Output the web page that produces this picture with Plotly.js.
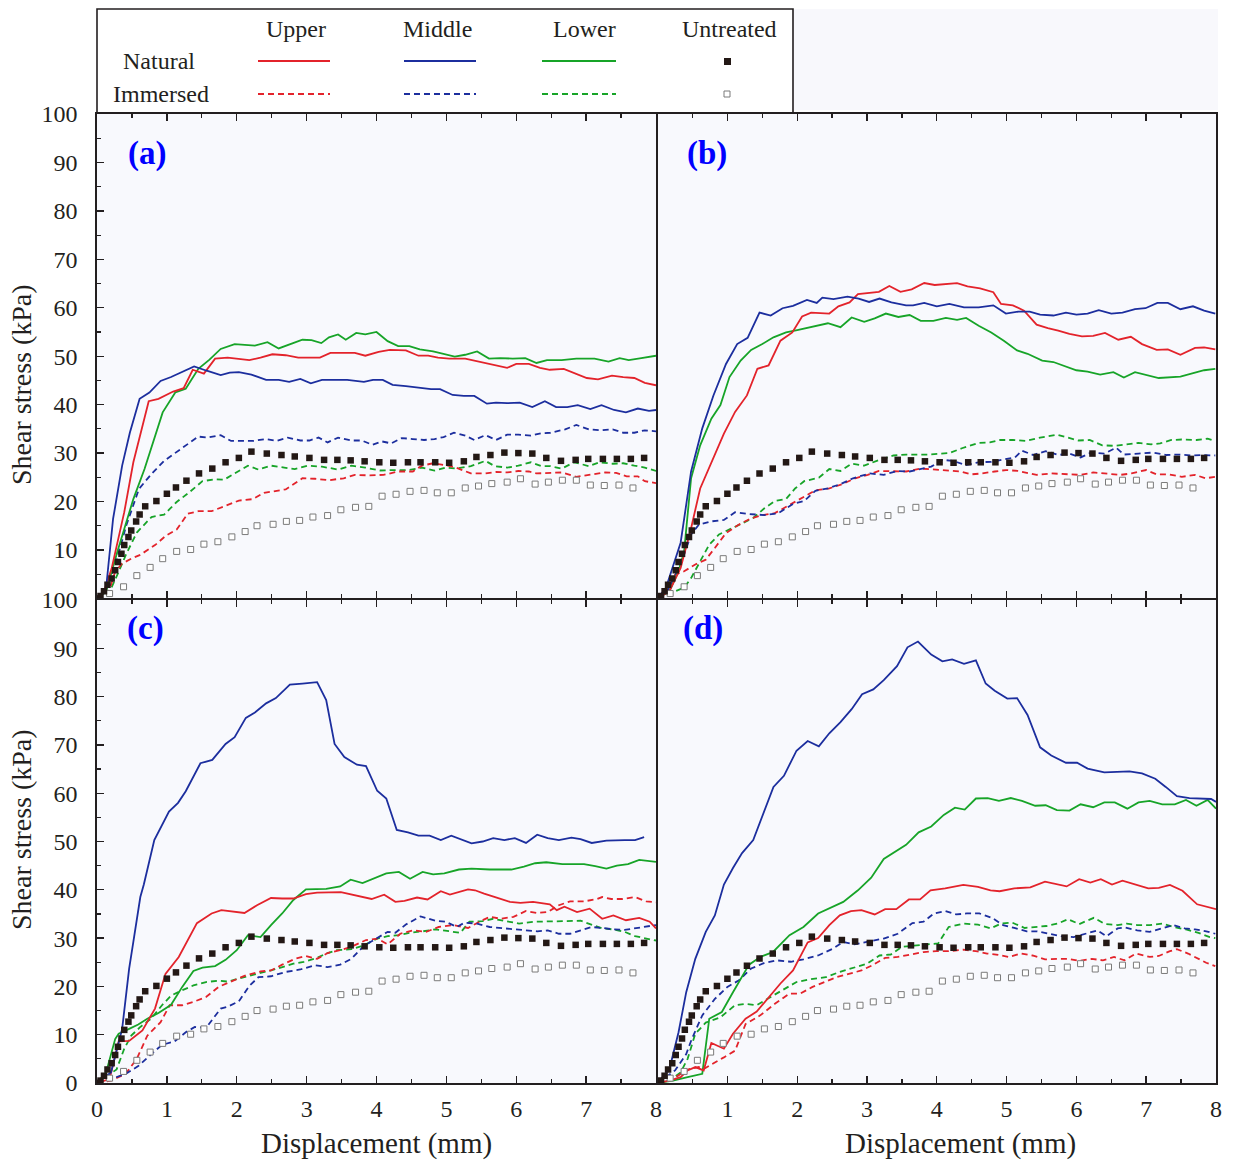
<!DOCTYPE html>
<html>
<head>
<meta charset="utf-8">
<script src="https://cdn.plot.ly/plotly-3.0.1.min.js"></script>
<style>html,body{margin:0;padding:0;background:#fff;}#chart{width:1234px;height:1162px;}</style>
</head>
<body>
<div id="chart"></div>
<script>
// ---------- Untreated (same in all four panels) ----------
const ut_nat_x = [0,0.05,0.1,0.15,0.21,0.26,0.30,0.35,0.39,0.45,0.49,0.56,0.61,0.69,0.85,1.00,1.13,1.28,1.46,1.65,1.84,2.03,2.21,2.43,2.64,2.83,3.04,3.25,3.44,3.63,3.83,4.04,4.24,4.45,4.63,4.84,5.04,5.25,5.43,5.63,5.83,6.03,6.23,6.43,6.64,6.85,7.03,7.24,7.44,7.64,7.83];
const ut_nat_y = [0,0.5,1.5,2.8,4.1,5.8,7.5,9.2,11.0,12.7,14.0,15.9,17.3,19.0,20.1,21.6,22.9,24.3,25.8,26.8,28.1,29.0,30.3,29.9,29.6,29.3,29.0,28.6,28.6,28.5,28.3,28.1,28.0,28.1,28.1,28.1,28.0,28.3,29.2,29.6,30.1,30.0,29.9,29.0,28.4,28.6,28.8,28.8,28.8,28.8,29.0];
const ut_imm_x = [0,0.18,0.38,0.57,0.76,0.94,1.14,1.34,1.53,1.73,1.93,2.12,2.29,2.52,2.71,2.90,3.09,3.30,3.49,3.70,3.89,4.08,4.28,4.48,4.68,4.87,5.07,5.27,5.46,5.65,5.87,6.06,6.27,6.46,6.66,6.86,7.06,7.26,7.47,7.67];
const ut_imm_y = [0,1.0,2.4,4.7,6.4,8.2,9.7,10.1,11.2,11.7,12.7,13.8,15.0,15.3,15.9,16.1,16.8,17.1,18.3,18.8,19.0,21.1,21.5,22.1,22.3,21.8,21.8,22.8,23.2,23.7,24.0,24.7,23.6,24.0,24.4,24.4,23.4,23.3,23.4,22.8];

// ---------- Panel (a) ----------
const a_up_nat_x = [0,0.10,0.21,0.39,0.52,0.74,0.88,1.09,1.24,1.37,1.53,1.69,1.87,2.18,2.34,2.51,2.70,2.88,3.19,3.34,3.53,3.69,3.84,4.03,4.19,4.42,4.60,4.74,4.88,5.04,5.27,5.43,5.66,5.87,6.00,6.18,6.34,6.48,6.68,6.86,7.01,7.17,7.37,7.53,7.69,7.84,8.0];
const a_up_nat_y = [0,1.4,6.2,17.8,28.1,40.7,41.2,42.7,43.4,47.2,46.4,49.5,49.7,49.2,49.7,50.4,50.2,49.7,49.7,50.7,50.7,50.7,50.1,50.9,51.3,51.2,50.1,50.1,49.7,49.5,49.5,49.0,48.2,47.6,48.4,48.4,47.6,47.2,47.4,46.4,45.5,45.2,46.0,45.7,45.5,44.5,44.0];
const a_mid_nat_x = [0,0.13,0.23,0.36,0.47,0.61,0.75,0.91,1.06,1.22,1.39,1.57,1.77,1.90,2.03,2.21,2.42,2.60,2.75,2.91,3.06,3.22,3.58,3.82,3.95,4.09,4.23,4.42,4.60,4.78,4.91,5.09,5.25,5.40,5.58,5.71,5.87,6.05,6.23,6.41,6.57,6.73,6.88,7.06,7.22,7.40,7.57,7.74,7.90,8.0];
const a_mid_nat_y = [0,2.1,16.4,27.4,34.2,41.2,42.5,44.9,45.7,46.7,47.9,47.0,46.1,46.6,46.7,46.2,45.1,45.1,44.7,45.3,44.4,45.1,45.1,44.7,45.1,45.1,44.1,43.8,43.5,43.2,43.2,42.0,41.8,41.8,40.2,40.4,40.3,40.4,39.5,40.7,39.5,39.5,39.9,39.1,39.9,38.9,38.4,39.2,38.7,38.9];
const a_low_nat_x = [0,0.13,0.29,0.52,0.68,0.94,1.12,1.27,1.45,1.61,1.77,1.97,2.26,2.44,2.60,2.75,2.94,3.07,3.21,3.32,3.45,3.56,3.71,3.84,4.0,4.16,4.31,4.47,4.62,4.81,4.96,5.12,5.27,5.44,5.61,5.77,5.95,6.13,6.29,6.44,6.65,6.86,7.12,7.32,7.48,7.61,7.79,7.95,8.0];
const a_low_nat_y = [0,1.4,9.6,20.5,26.7,38.4,42.5,43.3,47.4,49.3,51.5,52.5,52.2,52.9,51.6,52.4,53.4,53.3,52.7,53.9,54.5,53.4,54.8,54.5,55.0,53.1,52.1,52.1,51.4,51.0,50.5,49.9,50.3,51.0,49.5,49.6,49.5,49.6,48.6,49.2,49.2,49.5,49.5,48.9,49.6,49.2,49.6,50.1,50.1];
const a_up_imm_x = [0,0.16,0.26,0.36,0.49,0.62,0.83,0.99,1.14,1.30,1.45,1.64,1.82,2.03,2.23,2.39,2.70,2.94,3.12,3.32,3.53,3.69,3.90,4.10,4.31,4.52,4.65,4.81,4.99,5.14,5.35,5.56,5.71,5.87,6.03,6.18,6.29,6.49,6.65,6.86,7.06,7.27,7.43,7.58,7.74,7.84,8.0];
const a_up_imm_y = [0,1.0,5.5,7.2,8.2,9.0,11.0,13.0,14.2,17.5,18.0,18.0,19.0,20.2,20.5,21.8,22.5,24.8,24.7,24.4,24.8,25.5,25.4,25.5,26.2,26.2,27.4,27.9,27.5,27.0,25.8,25.8,26.1,26.0,26.3,26.2,25.8,25.9,26.0,25.1,25.5,26.0,25.9,25.2,25.2,24.2,23.8];
const a_mid_imm_x = [0,0.10,0.26,0.42,0.60,0.78,0.96,1.14,1.32,1.45,1.58,1.77,1.92,2.23,2.41,2.57,2.73,2.91,3.04,3.17,3.30,3.45,3.64,3.79,3.94,4.08,4.21,4.36,4.52,4.68,4.83,4.96,5.11,5.27,5.40,5.56,5.71,5.87,6.03,6.21,6.36,6.49,6.70,6.86,7.04,7.22,7.38,7.53,7.69,7.84,8.0];
const a_mid_imm_y = [0,1.0,6.8,15.1,22.6,25.7,28.4,30.3,32.2,33.4,33.2,33.7,32.5,32.5,32.9,32.5,33.2,32.6,32.6,33.2,32.2,33.2,32.6,32.6,31.7,32.4,32.0,33.1,32.9,32.7,32.9,33.3,34.2,33.6,32.7,33.7,32.7,33.8,33.8,33.6,34.1,34.2,34.9,35.8,34.9,34.7,34.9,34.2,34.2,34.7,34.5];
const a_low_imm_x = [0,0.16,0.31,0.42,0.57,0.78,0.96,1.14,1.32,1.51,1.69,1.82,1.97,2.16,2.31,2.49,2.68,2.83,3.01,3.22,3.45,3.64,3.84,4.05,4.26,4.47,4.65,4.83,4.99,5.14,5.35,5.56,5.69,5.87,6.03,6.21,6.36,6.49,6.65,6.83,7.04,7.19,7.38,7.53,7.69,7.84,8.0];
const a_low_imm_y = [0,0.7,5.5,9.2,13.6,16.8,17.3,19.9,21.9,24.2,24.6,24.5,25.8,27.4,26.6,27.4,27.0,26.7,27.4,27.2,26.6,27.4,27.0,26.4,26.5,26.5,27.0,26.4,27.0,26.8,27.3,28.4,27.3,27.0,27.4,28.1,27.3,27.3,26.8,28.1,27.3,28.1,27.8,27.9,27.4,27.0,26.3];

// ---------- Panel (b) ----------
const b_up_nat_x = [0,0.17,0.33,0.48,0.61,0.80,0.95,1.11,1.28,1.43,1.59,1.76,1.93,2.07,2.20,2.46,2.59,2.75,2.87,3.17,3.32,3.48,3.64,3.82,3.97,4.29,4.44,4.62,4.81,4.92,5.09,5.25,5.43,5.59,5.74,5.90,6.08,6.24,6.41,6.60,6.78,6.94,7.15,7.31,7.49,7.70,7.83,7.99];
const b_up_nat_y = [0,1.5,6.3,14.5,22.7,28.9,34.0,38.5,41.9,47.4,48.1,53.2,54.9,58.2,59.0,58.8,60.3,61.1,62.8,63.3,64.5,63.3,63.8,65.1,64.7,65.1,64.4,64.0,63.2,60.8,60.5,59.4,56.5,55.8,55.3,54.6,54.1,54.2,54.8,53.4,54.0,52.5,51.3,51.4,50.3,51.7,51.8,51.4];
const b_mid_nat_x = [0,0.12,0.33,0.48,0.64,0.80,0.98,1.14,1.29,1.46,1.62,1.79,1.94,2.14,2.28,2.36,2.52,2.72,2.88,3.03,3.18,3.35,3.56,3.66,3.82,4.0,4.18,4.39,4.60,4.81,4.99,5.17,5.33,5.48,5.67,5.85,6.0,6.16,6.32,6.50,6.66,6.84,6.99,7.16,7.31,7.49,7.67,7.83,7.99];
const b_mid_nat_y = [0,2.2,11.5,26.2,35.1,41.9,48.4,52.5,53.8,59.0,58.4,59.9,60.4,61.6,61.0,62.1,61.8,62.3,61.9,61.2,61.9,61.1,60.5,60.5,61.0,60.3,60.8,60.1,60.1,60.5,58.8,59.2,59.2,58.6,58.4,59.0,58.6,58.8,59.5,58.8,59.0,59.7,59.9,61.0,61.0,59.7,60.3,59.4,58.8];
const b_low_nat_x = [0,0.17,0.30,0.38,0.48,0.61,0.77,0.90,1.03,1.19,1.34,1.50,1.66,1.84,2.0,2.20,2.44,2.62,2.78,2.96,3.11,3.27,3.45,3.61,3.77,3.95,4.13,4.29,4.42,4.60,4.78,4.96,5.15,5.30,5.51,5.67,5.85,6.0,6.16,6.34,6.53,6.68,6.84,7.02,7.18,7.49,7.67,7.83,7.99];
const b_low_nat_y = [0,1.5,5.6,9.7,24.8,31.6,37.1,39.9,45.7,49.1,51.3,52.5,53.9,54.9,55.4,56.0,56.8,56.0,58.0,57.1,57.8,58.8,58.1,58.5,57.3,57.3,57.9,57.5,57.9,56.3,54.9,53.2,51.2,50.5,49.1,48.8,47.9,47.1,46.8,46.2,46.7,45.6,46.7,46.0,45.5,45.8,46.5,47.1,47.4];
const b_up_imm_x = [0,0.15,0.25,0.38,0.54,0.69,0.82,0.98,1.16,1.32,1.47,1.68,1.89,2.07,2.26,2.46,2.65,2.83,3.01,3.17,3.38,3.56,3.77,3.97,4.23,4.34,4.49,4.65,4.83,4.99,5.17,5.43,5.64,5.85,6.06,6.24,6.42,6.63,6.79,7.0,7.15,7.33,7.51,7.70,7.85,7.99];
const b_up_imm_y = [0,1.2,4.9,5.6,7.0,8.0,10.4,13.5,15.2,16.4,17.1,17.6,19.3,20.7,22.3,22.7,23.6,24.8,25.5,26.3,26.3,26.2,26.8,26.6,26.3,26.2,25.6,25.8,26.2,26.5,26.3,25.5,25.8,25.6,25.5,26.0,25.7,25.5,25.8,26.5,25.6,25.6,25.1,25.5,24.8,25.1];
const b_mid_imm_x = [0,0.15,0.33,0.48,0.59,0.77,0.95,1.11,1.32,1.53,1.73,1.94,2.10,2.26,2.44,2.62,2.80,3.04,3.24,3.43,3.61,3.77,3.92,4.08,4.23,4.42,4.60,4.78,4.96,5.12,5.22,5.38,5.56,5.74,5.90,6.06,6.21,6.40,6.57,6.68,6.89,7.10,7.29,7.47,7.67,7.83,7.99];
const b_mid_imm_y = [0,1.8,7.0,13.2,15.2,15.9,16.2,17.8,17.4,17.2,17.6,19.5,20.1,22.2,22.7,23.6,24.8,25.8,25.5,26.3,26.2,26.7,27.2,28.6,28.4,27.5,28.1,28.2,28.6,29.1,30.5,29.6,30.4,29.6,29.9,29.1,30.1,29.9,31.1,29.7,29.9,30.1,29.6,29.7,29.5,29.6,29.5];
const b_low_imm_x = [0,0.22,0.38,0.48,0.61,0.74,0.88,1.03,1.21,1.37,1.53,1.68,1.84,1.97,2.10,2.31,2.46,2.62,2.78,2.96,3.14,3.38,3.56,3.87,4.18,4.36,4.60,4.76,4.91,5.09,5.28,5.48,5.72,5.88,6.03,6.19,6.37,6.55,6.71,6.89,7.07,7.20,7.36,7.51,7.72,7.88,7.99];
const b_low_imm_y = [0,1.2,2.2,4.2,7.7,11.1,13.2,14.2,15.5,16.6,18.6,20.1,20.5,22.7,24.2,24.9,26.7,26.3,27.8,27.4,28.4,29.5,29.7,29.7,30.0,31.0,32.1,32.2,32.7,32.7,32.5,33.2,33.8,33.2,32.6,32.7,31.6,31.5,31.8,32.1,31.8,32.0,32.7,32.8,32.7,33.0,32.5];

// ---------- Panel (c) ----------
const c_up_nat_x = [0,0.18,0.31,0.46,0.65,0.83,0.98,1.17,1.43,1.64,1.78,2.11,2.29,2.49,2.65,2.81,2.99,3.15,3.49,3.72,3.93,4.11,4.27,4.40,4.58,4.73,4.92,5.05,5.31,5.41,5.54,5.72,5.91,6.06,6.24,6.48,6.58,6.69,6.87,7.05,7.23,7.39,7.57,7.76,7.91,8.0];
const c_up_nat_y = [0,0.8,8.6,8.7,10.9,15.4,22.6,26.1,33.1,35.1,35.8,35.2,36.8,38.3,38.2,38.2,39.1,39.4,39.5,38.8,38.1,39.0,37.5,37.7,38.4,38.0,39.7,39.0,40.1,39.9,39.2,38.4,37.5,37.3,37.5,37.0,35.8,36.5,35.4,36.1,34.0,34.7,33.7,34.2,33.4,32.0];
const c_mid_nat_x = [0,0.20,0.36,0.46,0.52,0.62,0.67,0.82,1.03,1.16,1.27,1.48,1.65,1.84,1.97,2.13,2.26,2.42,2.56,2.76,2.94,3.15,3.28,3.40,3.54,3.72,3.85,4.01,4.14,4.29,4.45,4.60,4.76,4.92,5.07,5.36,5.52,5.67,5.83,5.98,6.14,6.30,6.45,6.61,6.79,6.92,7.08,7.29,7.55,7.70,7.83];
const c_mid_nat_y = [0,2.2,11.2,23.7,29.2,38.5,41.1,50.3,56.2,58.0,60.4,66.2,66.9,70.2,71.6,75.6,76.7,78.6,79.7,82.5,82.7,83.0,79.3,70.2,67.5,65.9,65.6,60.5,58.9,52.4,51.9,51.2,51.2,50.3,51.2,49.6,50.0,50.7,50.3,50.7,49.7,51.4,50.7,50.3,50.8,50.5,49.7,50.2,50.3,50.3,50.9];
const c_low_nat_x = [0,0.13,0.26,0.31,0.46,0.59,0.72,0.88,1.06,1.22,1.38,1.51,1.69,1.84,2.0,2.16,2.34,2.49,2.65,2.81,2.99,3.28,3.48,3.63,3.80,3.98,4.14,4.32,4.48,4.66,4.81,4.97,5.18,5.36,5.62,5.93,6.11,6.27,6.43,6.66,6.97,7.13,7.29,7.44,7.60,7.76,7.86,8.0];
const c_low_nat_y = [0,2.2,9.1,10.2,11.2,12.1,13.3,14.5,16.2,19.9,23.2,23.9,24.2,25.5,27.5,30.6,30.2,32.7,35.1,37.9,40.1,40.2,40.7,42.1,41.4,42.5,43.4,43.7,42.3,43.7,43.2,43.4,44.2,44.4,44.2,44.2,44.8,45.5,45.7,45.3,45.3,44.9,44.4,45.0,45.3,46.2,46.0,45.8];
const c_up_imm_x = [0,0.20,0.41,0.57,0.72,0.91,1.04,1.22,1.38,1.56,1.74,1.95,2.13,2.34,2.49,2.65,2.83,2.99,3.15,3.30,3.48,3.64,3.85,4.01,4.16,4.34,4.53,4.71,4.89,5.10,5.31,5.49,5.62,5.78,5.96,6.14,6.30,6.45,6.61,6.77,6.97,7.16,7.23,7.36,7.52,7.70,7.86,8.0];
const c_up_imm_y = [0,0.5,1.9,5.0,9.8,12.6,16.1,16.1,16.8,17.8,19.9,21.2,22.3,23.1,23.3,24.5,25.7,26.3,25.7,26.9,27.5,28.2,29.6,29.9,28.7,30.9,31.6,31.3,32.3,32.7,32.1,33.5,34.4,34.0,34.4,35.6,35.2,35.4,36.8,37.6,37.6,38.1,38.5,38.1,38.1,38.5,37.6,37.4];
const c_mid_imm_x = [0,0.20,0.41,0.59,0.78,0.93,1.11,1.27,1.40,1.56,1.77,1.87,2.03,2.18,2.31,2.49,2.70,2.91,3.12,3.30,3.48,3.64,3.82,4.01,4.16,4.27,4.42,4.63,4.84,4.99,5.15,5.26,5.44,5.62,5.83,6.01,6.14,6.30,6.45,6.61,6.77,6.92,7.08,7.23,7.39,7.55,7.70,7.86,8.0];
const c_mid_imm_y = [0,0.8,1.9,3.5,6.0,7.9,8.6,10.5,11.6,11.4,15.4,15.8,16.9,20.1,21.9,22.1,23.0,23.5,24.4,24.0,24.5,25.7,28.4,30.0,31.3,31.1,32.8,34.5,33.6,33.4,32.3,33.2,33.0,32.3,32.0,31.8,31.6,31.4,31.6,30.9,30.9,31.6,32.3,32.1,31.8,31.7,32.0,32.3,32.7];
const c_low_imm_x = [0,0.15,0.28,0.39,0.49,0.62,0.78,0.93,1.06,1.22,1.38,1.56,1.74,1.87,2.03,2.18,2.34,2.49,2.65,2.81,2.96,3.15,3.28,3.43,3.64,3.82,4.01,4.16,4.32,4.47,4.66,4.84,5.05,5.20,5.33,5.52,5.67,5.83,6.04,6.27,6.45,6.66,6.92,7.08,7.23,7.39,7.55,7.70,7.86,8.0];
const c_low_imm_y = [0,1.5,2.8,7.1,9.8,11.6,13.4,16.1,18.1,19.2,20.2,20.9,21.2,21.0,21.6,22.3,22.8,23.3,24.0,24.7,25.1,25.9,26.8,27.5,27.7,28.5,29.9,30.4,30.6,31.1,31.4,31.8,31.4,31.1,33.4,33.5,34.0,33.6,33.0,33.4,33.5,33.5,33.6,32.7,32.0,31.8,31.3,30.4,29.9,29.5];

// ---------- Panel (d) ----------
const d_up_nat_x = [0,0.17,0.33,0.43,0.54,0.66,0.77,0.95,1.08,1.26,1.42,1.57,1.76,1.94,2.15,2.30,2.46,2.61,2.77,2.92,3.11,3.26,3.42,3.60,3.76,3.91,4.12,4.38,4.59,4.77,4.90,5.11,5.34,5.55,5.70,5.86,6.04,6.20,6.35,6.51,6.66,6.85,7.03,7.18,7.34,7.52,7.73,8.0];
const d_up_nat_y = [0,0.5,1.2,2.6,3.3,2.6,8.3,7.1,10.2,13.3,14.8,17.4,20.6,23.3,29.1,30.0,32.7,34.7,35.6,35.8,34.9,36.0,36.0,38.0,38.0,39.9,40.3,41.0,40.6,39.9,39.7,40.3,40.5,41.7,41.2,40.7,42.2,41.5,42.2,41.1,41.9,41.0,40.3,40.4,41.0,39.8,37.0,36.0];
const d_mid_nat_x = [0,0.17,0.30,0.41,0.54,0.69,0.82,0.95,1.08,1.21,1.37,1.53,1.66,1.81,1.99,2.15,2.31,2.46,2.62,2.78,2.93,3.09,3.24,3.43,3.58,3.73,3.92,4.08,4.22,4.39,4.56,4.70,4.83,5.01,5.15,5.30,5.48,5.64,5.85,6.01,6.16,6.40,6.58,6.76,6.94,7.13,7.28,7.44,7.62,7.78,7.93,8.0];
const d_mid_nat_y = [0,2.9,10.5,18.8,25.7,31.3,34.7,41.1,44.5,47.6,50.3,56.5,61.3,63.6,68.8,70.8,69.7,72.4,74.7,77.4,80.5,81.5,83.4,86.3,90.2,91.4,88.7,87.3,87.7,86.8,87.5,82.7,81.2,79.6,79.7,76.2,69.5,67.8,66.3,66.3,65.1,64.3,64.4,64.5,64.1,63.0,61.3,59.4,59.0,58.9,58.8,58.2];
const d_low_nat_x = [0,0.22,0.43,0.64,0.74,0.92,1.08,1.31,1.47,1.65,1.89,2.09,2.30,2.48,2.66,2.87,3.06,3.24,3.40,3.56,3.74,3.92,4.10,4.26,4.40,4.56,4.73,4.89,5.06,5.22,5.41,5.56,5.72,5.90,6.06,6.24,6.40,6.55,6.73,6.89,7.05,7.23,7.41,7.57,7.72,7.88,8.0];
const d_low_nat_y = [0,0.5,1.2,1.9,13.3,14.7,18.8,24.5,26.1,27.1,30.6,32.3,35.1,36.3,37.5,39.9,42.5,46.4,47.9,49.3,51.9,53.1,55.5,57.0,56.6,58.9,59.0,58.4,59.0,58.4,57.4,57.5,56.5,56.4,57.7,57.1,58.1,58.1,56.8,58.1,58.4,57.7,57.7,58.6,57.4,58.6,56.8];
const d_up_imm_x = [0,0.22,0.43,0.59,0.66,0.79,0.95,1.11,1.26,1.47,1.68,1.89,2.04,2.22,2.41,2.56,2.74,2.92,3.08,3.26,3.44,3.63,3.81,3.99,4.17,4.38,4.56,4.72,4.85,5.03,5.21,5.37,5.55,5.73,5.89,6.04,6.22,6.38,6.54,6.69,6.85,7.05,7.18,7.34,7.44,7.60,7.75,7.86,7.99];
const d_up_imm_y = [0,0.8,2.8,3.3,2.9,3.9,5.3,6.7,12.2,14.0,16.4,18.5,18.5,19.9,21.0,21.9,22.6,23.3,24.4,25.9,26.1,26.6,27.1,27.3,27.3,27.6,27.3,26.8,26.6,26.1,26.8,26.4,25.6,25.7,25.7,25.3,25.7,25.4,26.1,25.4,26.8,26.1,26.3,27.3,27.7,26.8,25.7,24.9,24.2];
const d_mid_imm_x = [0,0.14,0.25,0.41,0.49,0.64,0.82,1.00,1.16,1.34,1.52,1.70,1.91,2.09,2.30,2.51,2.66,2.82,3.03,3.24,3.44,3.65,3.81,3.96,4.12,4.28,4.43,4.61,4.79,4.95,5.11,5.29,5.44,5.60,5.78,5.96,6.15,6.30,6.43,6.59,6.69,6.87,7.05,7.24,7.39,7.55,7.70,7.86,7.99];
const d_mid_imm_y = [0,1.5,2.6,6.0,9.1,14.0,17.4,19.9,21.2,23.7,24.8,25.4,25.1,25.6,26.4,27.8,29.2,28.7,29.3,29.9,30.9,33.1,33.4,35.1,35.6,34.9,35.1,35.1,34.2,32.7,32.1,31.4,31.4,30.9,30.4,30.2,30.9,31.6,30.4,32.0,32.2,31.6,31.3,32.0,32.7,32.0,31.8,31.4,30.9];
const d_low_imm_x = [0,0.17,0.33,0.43,0.54,0.69,0.90,1.11,1.26,1.42,1.57,1.78,1.99,2.20,2.41,2.61,2.82,3.00,3.18,3.34,3.50,3.65,3.86,4.02,4.17,4.38,4.59,4.77,4.92,5.08,5.26,5.42,5.57,5.73,5.88,6.04,6.25,6.41,6.59,6.72,6.87,7.05,7.24,7.39,7.57,7.75,7.91,7.99];
const d_low_imm_y = [0,0.5,2.2,5.0,10.2,12.5,13.6,16.1,16.4,16.1,17.4,19.2,20.9,21.5,21.9,23.0,24.0,24.7,26.4,26.6,28.2,28.4,28.7,28.9,32.3,33.0,32.8,32.0,33.0,33.2,32.1,32.3,32.5,33.0,33.9,32.9,34.2,32.9,32.7,33.0,32.7,32.7,33.0,32.3,31.8,31.1,30.2,30.0];

// ---------- Labels / ticks ----------
const panel_labels = ['(a)', '(b)', '(c)', '(d)'];
const position_names = ['Upper', 'Middle', 'Lower', 'Untreated'];
const condition_names = ['Natural', 'Immersed'];
const x_title = 'Displacement (mm)';
const y_title = 'Shear stress (kPa)';
const x_ticks_left = [0,1,2,3,4,5,6,7,8];
const x_ticks_right = [1,2,3,4,5,6,7,8];
const x_minor = [0.5,1.5,2.5,3.5,4.5,5.5,6.5,7.5];
const y_ticks_top = [10,20,30,40,50,60,70,80,90,100];
const y_ticks_bottom = [0,10,20,30,40,50,60,70,80,90,100];
const y_minor = [5,15,25,35,45,55,65,75,85,95];

// ---------- Styles ----------
const RED = '#e3232b', BLUE = '#1c2e9e', GREEN = '#17a428', INK = '#231f20';
const FONT = 'Liberation Serif, Times New Roman, serif';
const DASH = '6px,4px';
const LW = 1.6;

const panels = [
  {xa:'x', ya:'y', s:{un:[a_up_nat_x,a_up_nat_y], mn:[a_mid_nat_x,a_mid_nat_y], ln:[a_low_nat_x,a_low_nat_y], ui:[a_up_imm_x,a_up_imm_y], mi:[a_mid_imm_x,a_mid_imm_y], li:[a_low_imm_x,a_low_imm_y]}},
  {xa:'x2', ya:'y2', s:{un:[b_up_nat_x,b_up_nat_y], mn:[b_mid_nat_x,b_mid_nat_y], ln:[b_low_nat_x,b_low_nat_y], ui:[b_up_imm_x,b_up_imm_y], mi:[b_mid_imm_x,b_mid_imm_y], li:[b_low_imm_x,b_low_imm_y]}},
  {xa:'x3', ya:'y3', s:{un:[c_up_nat_x,c_up_nat_y], mn:[c_mid_nat_x,c_mid_nat_y], ln:[c_low_nat_x,c_low_nat_y], ui:[c_up_imm_x,c_up_imm_y], mi:[c_mid_imm_x,c_mid_imm_y], li:[c_low_imm_x,c_low_imm_y]}},
  {xa:'x4', ya:'y4', s:{un:[d_up_nat_x,d_up_nat_y], mn:[d_mid_nat_x,d_mid_nat_y], ln:[d_low_nat_x,d_low_nat_y], ui:[d_up_imm_x,d_up_imm_y], mi:[d_mid_imm_x,d_mid_imm_y], li:[d_low_imm_x,d_low_imm_y]}}
];
const seriesStyle = {
  ui:{color:RED, dash:DASH, name:'Upper Immersed'},
  mi:{color:BLUE, dash:DASH, name:'Middle Immersed'},
  li:{color:GREEN, dash:DASH, name:'Lower Immersed'},
  un:{color:RED, dash:'solid', name:'Upper Natural'},
  mn:{color:BLUE, dash:'solid', name:'Middle Natural'},
  ln:{color:GREEN, dash:'solid', name:'Lower Natural'}
};
const traces = [];
panels.forEach((p) => {
  ['li','ui','mi','ln','un','mn'].forEach(k => {
    const st = seriesStyle[k];
    traces.push({type:'scatter', mode:'lines', x:p.s[k][0], y:p.s[k][1], xaxis:p.xa, yaxis:p.ya,
      name:st.name, showlegend:false, line:{color:st.color, width:1.8, dash:st.dash}, hoverinfo:'skip'});
  });
  traces.push({type:'scatter', mode:'markers', x:ut_imm_x, y:ut_imm_y, xaxis:p.xa, yaxis:p.ya, name:'Untreated Immersed',
    showlegend:false, marker:{symbol:'square', size:6, color:'#ffffff', line:{color:'#7a7a7a', width:1}}, hoverinfo:'skip'});
  traces.push({type:'scatter', mode:'markers', x:ut_nat_x, y:ut_nat_y, xaxis:p.xa, yaxis:p.ya, name:'Untreated Natural',
    showlegend:false, marker:{symbol:'square', size:6.5, color:'#231815', line:{width:0}}, hoverinfo:'skip'});
});

const W = 1234, H = 1162;
const px = v => v / W, py = v => 1 - v / H;
// second column / top row domains are nudged by one line width so that shared borders coincide
const XL = [px(97), px(656)], XR = [px(656 + LW), px(1216)];
const YT = [py(600 - LW), py(114)], YB = [py(1083), py(600)];

function xaxis(domain, anchor, vals) {
  const ax = {domain, anchor, range:[0,8], showgrid:false, zeroline:false, showline:true, linecolor:INK, linewidth:LW,
    mirror:'ticks', ticks:'inside', ticklen:7, tickwidth:1.4, tickcolor:INK, tickmode:'array', tickvals:vals || x_ticks_left,
    minor:{ticks:'inside', ticklen:4, tickvals:x_minor, tickcolor:INK, tickwidth:1.2},
    showticklabels:!!vals, ticklabelstandoff:4, tickfont:{family:FONT, size:24, color:INK}, fixedrange:true};
  return ax;
}
function yaxis(domain, anchor, vals) {
  const ax = {domain, anchor, range:[0,100], showgrid:false, zeroline:false, showline:true, linecolor:INK, linewidth:LW,
    mirror:true, showticklabels:!!vals, tickfont:{family:FONT, size:24, color:INK}, ticklabelstandoff:13, fixedrange:true};
  if (vals) {
    Object.assign(ax, {ticks:'inside', ticklen:7, tickwidth:1.4, tickcolor:INK, tickmode:'array', tickvals:vals,
      minor:{ticks:'inside', ticklen:4, tickvals:y_minor, tickcolor:INK, tickwidth:1.2}});
  } else {
    ax.ticks = '';
  }
  return ax;
}

const annotations = [];
const labelPos = [[147,153],[707,153],[145,628],[703,628]];
panel_labels.forEach((t,i) => annotations.push({text:'<b>'+t+'</b>', xref:'paper', yref:'paper', x:px(labelPos[i][0]), y:py(labelPos[i][1]),
  xanchor:'center', yanchor:'middle', showarrow:false, font:{family:FONT, size:33, color:'#0000ff'}}));
[385, 830].forEach(yc => annotations.push({text:y_title, xref:'paper', yref:'paper', x:px(21), y:py(yc), textangle:-90,
  xanchor:'center', yanchor:'middle', showarrow:false, font:{family:FONT, size:28, color:INK}}));
[376, 960].forEach(xc => annotations.push({text:x_title, xref:'paper', yref:'paper', x:px(xc), y:py(1143),
  xanchor:'center', yanchor:'middle', showarrow:false, font:{family:FONT, size:29, color:INK}}));
const colX = [296, 437, 584, 729];
position_names.forEach((t,i) => annotations.push({text:t, xref:'paper', yref:'paper', x:px(colX[i]), y:py(29),
  xanchor:'center', yanchor:'middle', showarrow:false, font:{family:FONT, size:24, color:INK}}));
const rowY = [61, 94];
condition_names.forEach((t,i) => annotations.push({text:t, xref:'paper', yref:'paper', x:px(i===0?159:161), y:py(rowY[i]),
  xanchor:'center', yanchor:'middle', showarrow:false, font:{family:FONT, size:24, color:INK}}));

const shapes = [
  {type:'rect', xref:'paper', yref:'paper', x0:px(793), x1:px(1218), y0:py(110), y1:py(9), fillcolor:'#f8f8fc', line:{width:0}, layer:'below'},
  {type:'rect', xref:'paper', yref:'paper', x0:px(97), x1:px(793), y0:py(113), y1:py(9), fillcolor:'#ffffff', line:{color:INK, width:1.6}, layer:'below'}
];
const legendLines = [[258,330,RED],[404,476,BLUE],[542,616,GREEN]];
legendLines.forEach(l => {
  shapes.push({type:'line', xref:'paper', yref:'paper', x0:px(l[0]), x1:px(l[1]), y0:py(61), y1:py(61), line:{color:l[2], width:1.8}});
  shapes.push({type:'line', xref:'paper', yref:'paper', x0:px(l[0]), x1:px(l[1]), y0:py(94), y1:py(94), line:{color:l[2], width:1.8, dash:DASH}});
});
shapes.push({type:'rect', xref:'paper', yref:'paper', x0:px(724), x1:px(731), y0:py(65), y1:py(58), fillcolor:'#231815', line:{width:0}});
shapes.push({type:'rect', xref:'paper', yref:'paper', x0:px(724), x1:px(730), y0:py(97), y1:py(91), fillcolor:'#ffffff', line:{color:'#7a7a7a', width:1}});

const layout = {
  width:W, height:H, margin:{l:0, r:0, t:0, b:0}, paper_bgcolor:'#ffffff', plot_bgcolor:'#f8f9fd',
  showlegend:false, font:{family:FONT, color:INK},
  xaxis: xaxis(XL,'y',null), yaxis: yaxis(YT,'x',y_ticks_top),
  xaxis2: xaxis(XR,'y2',null), yaxis2: yaxis(YT,'x2',null),
  xaxis3: xaxis(XL,'y3',x_ticks_left), yaxis3: yaxis(YB,'x3',y_ticks_bottom),
  xaxis4: xaxis(XR,'y4',x_ticks_right), yaxis4: yaxis(YB,'x4',null),
  annotations, shapes
};
Plotly.newPlot('chart', traces, layout, {displayModeBar:false, staticPlot:true});
</script>
</body>
</html>
